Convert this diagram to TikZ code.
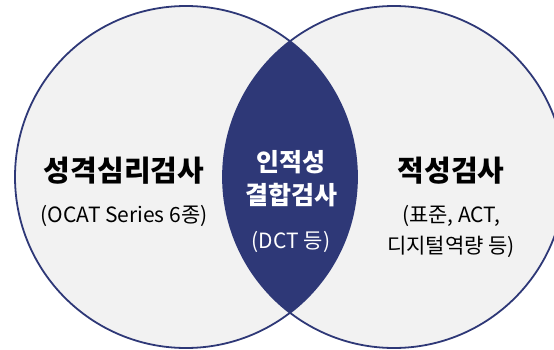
\documentclass[tikz,border=0pt]{standalone}
\usepackage{fontspec}
\setmainfont{Noto Sans CJK KR}
\usepackage{tikz}

\definecolor{navy}{HTML}{2E3877}
\definecolor{paper}{HTML}{F2F2F2}

\begin{document}
\begin{tikzpicture}[x=1pt,y=1pt,
  ring/.style={draw=navy,line width=1.8pt},
  title/.style={font=\fontsize{29}{33}\selectfont\bfseries,inner sep=0pt},
  sub/.style={font=\fontsize{21}{31}\selectfont,align=center,inner sep=0pt}]
\useasboundingbox (0,0) rectangle (554,349);
\coordinate (lc) at (186,172);
\coordinate (rc) at (394,172);
\fill [paper] (lc) circle (171);
\fill [paper] (rc) circle (171);
\begin{scope}
\clip (lc) circle (171);
\fill [navy] (rc) circle (171);
\end{scope}
\draw [ring] (lc) circle (171);
\draw [ring] (rc) circle (171);
% left
\node [title] (persona) at (124,178) {성격심리검사};
\node [sub] (personasub) at (124,133) {(OCAT Series 6종)};
% middle
\node [title,white,font=\fontsize{25}{33}\selectfont\bfseries,align=center] (mix) at (291,170) {인적성\\결합검사};
\node [sub,white] (mixsub) at (291,107) {(DCT 등)};
% right
\node [title] (apt) at (451,178) {적성검사};
\node [sub] (aptsub) at (451,118) {(표준, ACT,\\디지털역량 등)};
\end{tikzpicture}
\end{document}
